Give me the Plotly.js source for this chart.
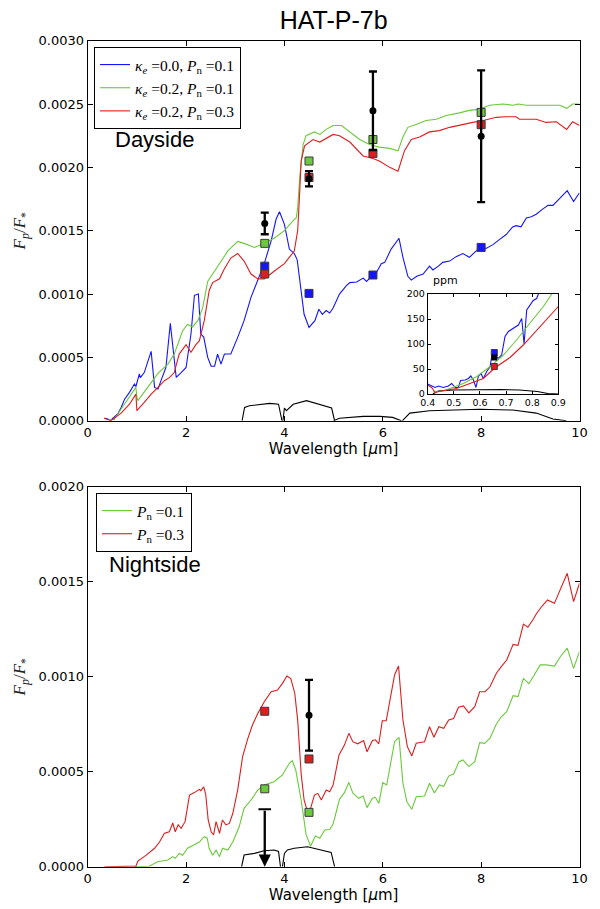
<!DOCTYPE html>
<html>
<head>
<meta charset="utf-8">
<script src="https://cdn.plot.ly/plotly-3.0.1.min.js"></script>
<style>html,body{margin:0;padding:0;background:#fff;}#chart{width:600px;height:909px;}</style>
</head>
<body>
<div id="chart"></div>
<script>
// ---------------- Dayside model spectra ----------------
const dayBlueX = [0.34,0.47,0.61,0.68,0.75,0.85,0.95,0.98,1.05,1.07,1.15,1.29,1.36,1.43,1.49,1.59,1.68,1.75,1.80,1.90,2.00,2.10,2.17,2.25,2.30,2.36,2.44,2.51,2.58,2.64,2.71,2.78,2.91,3.05,3.18,3.32,3.46,3.59,3.73,3.83,3.90,4.00,4.10,4.20,4.26,4.34,4.40,4.50,4.62,4.70,4.77,4.85,4.92,4.99,5.12,5.26,5.33,5.47,5.60,5.67,5.77,5.87,5.97,6.04,6.17,6.33,6.41,6.51,6.58,6.69,6.82,6.95,7.02,7.13,7.22,7.36,7.49,7.63,7.76,7.90,8.00,8.10,8.24,8.37,8.51,8.64,8.71,8.81,8.92,9.02,9.12,9.25,9.36,9.46,9.59,9.75,9.88,10.0];
const dayBlueY = [0.000021,0.000005,0.000053,0.000105,0.00017,0.000224,0.00029,0.00027,0.00037,0.00034,0.00038,0.000547,0.000263,0.00025,0.000316,0.00042,0.000768,0.0005,0.000342,0.00038,0.00042,0.000684,0.00099,0.001,0.000684,0.00066,0.0005,0.00043,0.00043,0.000526,0.000447,0.000526,0.000526,0.000658,0.00079,0.000974,0.001105,0.00124,0.00142,0.00159,0.00165,0.00155,0.001355,0.00132,0.00127,0.001026,0.00084,0.000737,0.00079,0.00088,0.00084,0.00087,0.00085,0.00089,0.001,0.001066,0.00109,0.001095,0.001126,0.0011,0.00114,0.00117,0.00124,0.00125,0.001355,0.00144,0.00129,0.00114,0.00111,0.00114,0.001158,0.00122,0.00119,0.00122,0.00125,0.00126,0.001295,0.00132,0.00129,0.00134,0.00137,0.00136,0.00139,0.00143,0.00147,0.00153,0.00154,0.00153,0.0016,0.00161,0.00163,0.00167,0.0017,0.0017,0.00175,0.001816,0.00173,0.0018];

const dayGreenX = [0.37,0.54,0.68,0.81,0.98,1.0,1.02,1.22,1.42,1.63,1.76,1.93,2.03,2.13,2.24,2.34,2.44,2.51,2.61,2.71,2.85,3.05,3.18,3.39,3.59,3.79,4.00,4.20,4.24,4.27,4.31,4.38,4.44,4.61,4.72,4.85,4.99,5.16,5.33,5.53,5.73,5.93,6.14,6.31,6.41,6.51,6.69,6.88,7.09,7.29,7.56,7.76,7.97,8.17,8.44,8.65,8.75,8.92,9.19,9.46,9.60,9.74,9.86,10.0];
const dayGreenY = [0.00001,0.00001,0.000092,0.00017,0.000263,0.00019,0.000158,0.000263,0.00037,0.000447,0.000526,0.00071,0.00076,0.00074,0.00079,0.000895,0.0011,0.00114,0.0012,0.00125,0.00134,0.001415,0.0014,0.001368,0.0014,0.00144,0.0015,0.00159,0.0016,0.00168,0.00192,0.00218,0.00225,0.00228,0.00226,0.0023,0.00233,0.00233,0.00228,0.00222,0.00218,0.00216,0.00215,0.00213,0.00224,0.002316,0.00234,0.00237,0.00238,0.00241,0.00243,0.00245,0.00246,0.00249,0.0025,0.00249,0.0025,0.00249,0.00249,0.00249,0.00249,0.002466,0.0025,0.0025];

const dayRedX = [0.34,0.47,0.68,0.85,0.98,1.0,1.15,1.29,1.42,1.56,1.66,1.76,1.86,2.0,2.10,2.2,2.27,2.37,2.47,2.54,2.68,2.78,2.91,3.05,3.18,3.32,3.46,3.59,3.79,4.0,4.2,4.27,4.31,4.34,4.41,4.58,4.72,4.85,4.99,5.12,5.33,5.60,5.80,5.93,6.14,6.31,6.44,6.58,6.75,6.95,7.15,7.36,7.63,7.83,8.04,8.31,8.51,8.71,8.78,8.92,9.12,9.32,9.53,9.74,9.86,10.0];
const dayRedY = [0.00002,0.0,0.00006,0.00013,0.00021,0.000079,0.000145,0.00021,0.00026,0.000316,0.00034,0.00038,0.000526,0.0006,0.00054,0.0006,0.00063,0.00079,0.001026,0.00109,0.00112,0.0012,0.001284,0.00132,0.00126,0.001158,0.00112,0.00112,0.00118,0.00124,0.00134,0.0015,0.0018,0.00205,0.00217,0.00222,0.0022,0.00223,0.00226,0.00225,0.0022,0.00209,0.00207,0.00205,0.002,0.00197,0.00213,0.00222,0.00224,0.00228,0.00229,0.002316,0.00234,0.002355,0.00237,0.002395,0.0024,0.0024,0.00238,0.00238,0.00238,0.002355,0.00236,0.0023,0.00236,0.00233];

// Dayside band-averaged model points and observations
const dayBandX = [3.6, 4.5, 5.8, 8.0];
const dayBandBlue = [0.00122, 0.001005, 0.00115, 0.001368];
const dayBandGreen = [0.0014, 0.00205, 0.00222, 0.002434];
const dayBandRed = [0.001158, 0.00192, 0.00211, 0.002337];
const dayObsY = [0.001557, 0.00191, 0.002447, 0.002246];
const dayObsErr = [0.000085, 0.00006, 0.00031, 0.00052];

// IRAC filter response curves (scaled), dayside panel
const f36X = [3.14,3.19,3.29,3.5,3.7,3.88,3.95];
const f36Y = [0,0.000105,0.000118,0.000126,0.000137,0.00013,0];
const f45X = [3.97,4.0,4.04,4.18,4.45,4.72,4.96,5.02];
const f45Y = [0,0.0001,0.00008,0.00013,0.000158,0.00013,0.0001,0];
const f58X = [5.0,5.12,5.6,5.94,6.2,6.38];
const f58Y = [0,0.00002,0.000034,0.000034,0.000026,0];
const f80X = [6.4,6.55,6.95,7.97,8.64,9.12,9.46,9.73];
const f80Y = [0,0.00006,0.000079,0.00009,0.000084,0.00006,0.000013,0];

// ---------------- Inset (optical, ppm) ----------------
const insBlueX = [0.4,0.415,0.428,0.441,0.46,0.479,0.492,0.505,0.517,0.526,0.543,0.556,0.565,0.575,0.585,0.594,0.604,0.613,0.626,0.639,0.645,0.658,0.67,0.683,0.696,0.709,0.728,0.747,0.76,0.769,0.779,0.792,0.804,0.817,0.83];
const insBlueY = [20,16,13,16,13,16,21,13,13,27,28,31,36,28,13,36,41,31,45,55,75,78,71,78,115,125,131,138,151,100,168,178,187,191,208];
const insGreenX = [0.42,0.46,0.485,0.536,0.588,0.639,0.69,0.74,0.79,0.843,0.875,0.9];
const insGreenY = [4,6,11,21,35,55,78,108,141,175,200,215];
const insRedX = [0.4,0.415,0.428,0.46,0.51,0.562,0.613,0.659,0.715,0.766,0.817,0.868,0.9];
const insRedY = [18,13,3,7,11,21,31,53,73,98,128,156,175];
const kepX = [0.42,0.44,0.5,0.6,0.68,0.75,0.82,0.86,0.9];
const kepY = [0,6,8,9,9,8,5,1,0];
const insBandX = [0.655];
const insBandBlue = [83];
const insBandRed = [55];
const insObsY = [73];

// ---------------- Nightside ----------------
const nightRedX = [0.34,0.98,1.02,1.19,1.36,1.46,1.56,1.66,1.73,1.78,1.84,1.9,1.98,2.07,2.17,2.27,2.30,2.36,2.4,2.45,2.51,2.56,2.61,2.68,2.74,2.81,2.88,2.95,3.05,3.15,3.25,3.35,3.46,3.59,3.73,3.86,3.96,4.05,4.13,4.21,4.27,4.34,4.40,4.46,4.53,4.61,4.68,4.75,4.85,4.92,4.99,5.11,5.22,5.31,5.39,5.49,5.61,5.68,5.79,5.85,5.92,5.99,6.07,6.14,6.24,6.32,6.41,6.50,6.59,6.68,6.85,6.95,7.04,7.14,7.24,7.34,7.44,7.54,7.64,7.75,7.87,7.97,8.08,8.18,8.31,8.41,8.52,8.65,8.75,8.86,8.95,9.05,9.13,9.24,9.35,9.49,9.63,9.75,9.88,10.0];
const nightRedY = [0,0.000003,0.00003,0.000061,0.000097,0.00013,0.000176,0.000184,0.00023,0.000184,0.000221,0.000202,0.000237,0.000377,0.00039,0.000407,0.0004,0.00042,0.00038,0.000246,0.000184,0.000167,0.000237,0.000176,0.000246,0.00022,0.000228,0.00028,0.000404,0.00058,0.00067,0.000746,0.000807,0.000868,0.000921,0.00093,0.000965,0.001004,0.00099,0.000913,0.00077,0.00049,0.000351,0.000298,0.000306,0.000377,0.000386,0.000351,0.000404,0.000395,0.00043,0.000588,0.00064,0.000702,0.000658,0.000647,0.000664,0.000605,0.000664,0.000668,0.000647,0.000768,0.000768,0.000877,0.001009,0.001056,0.000772,0.000632,0.000583,0.00065,0.000658,0.000737,0.000681,0.000737,0.000728,0.000772,0.00078,0.000839,0.000846,0.00081,0.000842,0.000921,0.000921,0.000947,0.001018,0.001053,0.001088,0.00117,0.001165,0.001277,0.00126,0.001298,0.001334,0.001372,0.001404,0.001386,0.001474,0.001544,0.001395,0.001492];

const nightGreenX = [0.95,1.25,1.42,1.63,1.73,1.78,1.86,1.93,2.03,2.17,2.27,2.37,2.43,2.47,2.54,2.61,2.68,2.74,2.85,2.95,3.08,3.18,3.32,3.46,3.59,3.79,3.96,4.10,4.16,4.23,4.34,4.44,4.53,4.63,4.72,4.82,4.92,4.99,5.12,5.22,5.31,5.39,5.51,5.60,5.68,5.79,5.85,5.92,6.0,6.08,6.24,6.33,6.41,6.49,6.59,6.68,6.85,6.95,7.05,7.15,7.24,7.34,7.44,7.55,7.63,7.75,7.87,7.97,8.07,8.18,8.31,8.41,8.52,8.65,8.75,8.86,8.97,9.08,9.2,9.32,9.49,9.61,9.75,9.88,10.0];
const nightGreenY = [0,0.000002,0.000026,0.000035,0.000053,0.000044,0.00007,0.00006,0.000097,0.000114,0.00013,0.000158,0.00015,0.000097,0.00006,0.000088,0.000053,0.000097,0.000088,0.00013,0.00021,0.000307,0.000351,0.000404,0.00043,0.000447,0.000483,0.000544,0.000558,0.000509,0.000351,0.00017,0.000108,0.000162,0.00015,0.000193,0.000196,0.000225,0.000355,0.00039,0.000444,0.000388,0.00036,0.000372,0.000311,0.00036,0.000365,0.000333,0.000442,0.00043,0.000658,0.000681,0.000439,0.000342,0.000302,0.000368,0.000372,0.000439,0.000388,0.00043,0.000423,0.000477,0.000488,0.000553,0.000562,0.000527,0.000553,0.000653,0.000649,0.000676,0.000751,0.000789,0.000816,0.0009,0.000895,0.000991,0.000963,0.001009,0.001062,0.001062,0.001056,0.001105,0.00115,0.001044,0.001132];

const nightBandX = [3.6, 4.5];
const nightBandRed = [0.000818, 0.000567];
const nightBandGreen = [0.00041, 0.000286];
const nightObsX = [4.5];
const nightObsY = [0.000797];
const nightObsErr = [0.000186];
const nightLimitX = [3.6];
const nightLimitY = [0.000302];

const n36X = [3.13,3.18,3.39,3.59,3.79,3.88,3.92];
const n36Y = [0,0.0000615,0.00007,0.000084,0.000088,0.00008,0];
const n45X = [3.96,4.0,4.06,4.2,4.47,4.74,4.95,5.02];
const n45Y = [0,0.00007,0.000088,0.000097,0.000105,0.00009,0.000075,0];

// ---------------- styling ----------------
const BLUE = '#1414ff', GREEN = '#6cc83c', RED = '#dc1e1e';
const LW = 1.1;
const sqEdge = {color:'#3a3a3a', width:1};

function line(x, y, color, xa, ya, extra) {
  return Object.assign({type:'scatter', mode:'lines', x:x, y:y, xaxis:xa, yaxis:ya,
    line:{color:color, width:LW}, showlegend:false, hoverinfo:'skip'}, extra||{});
}
function squares(x, y, color, xa, ya, size) {
  return {type:'scatter', mode:'markers', x:x, y:y, xaxis:xa, yaxis:ya, showlegend:false,
    marker:{symbol:'square', size:size||8, color:color, line:sqEdge}, hoverinfo:'skip'};
}

const data = [
  // dayside
  line(dayBlueX, dayBlueY, BLUE, 'x', 'y', {name:'<i>κ<sub>e</sub></i> =0.0, <i>P</i><sub>n</sub> =0.1', showlegend:true, legend:'legend'}),
  line(dayGreenX, dayGreenY, GREEN, 'x', 'y', {name:'<i>κ<sub>e</sub></i> =0.2, <i>P</i><sub>n</sub> =0.1', showlegend:true, legend:'legend'}),
  line(dayRedX, dayRedY, RED, 'x', 'y', {name:'<i>κ<sub>e</sub></i> =0.2, <i>P</i><sub>n</sub> =0.3', showlegend:true, legend:'legend'}),
  line(f36X, f36Y, 'black', 'x', 'y'),
  line(f45X, f45Y, 'black', 'x', 'y'),
  line(f58X, f58Y, 'black', 'x', 'y'),
  line(f80X, f80Y, 'black', 'x', 'y'),
  squares(dayBandX, dayBandBlue, BLUE, 'x', 'y'),
  squares(dayBandX, dayBandGreen, GREEN, 'x', 'y'),
  squares(dayBandX, dayBandRed, RED, 'x', 'y'),
  {type:'scatter', mode:'markers', x:dayBandX, y:dayObsY, xaxis:'x', yaxis:'y', showlegend:false,
   marker:{symbol:'circle', size:7, color:'black'},
   error_y:{type:'data', array:dayObsErr, visible:true, color:'black', thickness:2.3, width:4}, hoverinfo:'skip'},
  // inset
  line(kepX, kepY, 'black', 'x3', 'y3'),
  line(insBlueX, insBlueY, BLUE, 'x3', 'y3'),
  line(insGreenX, insGreenY, GREEN, 'x3', 'y3'),
  line(insRedX, insRedY, RED, 'x3', 'y3'),
  squares(insBandX, insBandBlue, BLUE, 'x3', 'y3', 6),
  squares(insBandX, insBandRed, RED, 'x3', 'y3', 6),
  {type:'scatter', mode:'markers', x:insBandX, y:insObsY, xaxis:'x3', yaxis:'y3', showlegend:false,
   marker:{symbol:'square', size:6, color:'black'}, hoverinfo:'skip'},
  // nightside
  line(nightGreenX, nightGreenY, GREEN, 'x2', 'y2', {name:'<i>P</i><sub>n</sub> =0.1', showlegend:true, legend:'legend2'}),
  line(nightRedX, nightRedY, RED, 'x2', 'y2', {name:'<i>P</i><sub>n</sub> =0.3', showlegend:true, legend:'legend2'}),
  line(n36X, n36Y, 'black', 'x2', 'y2'),
  line(n45X, n45Y, 'black', 'x2', 'y2'),
  squares(nightBandX, nightBandRed, RED, 'x2', 'y2'),
  squares(nightBandX, nightBandGreen, GREEN, 'x2', 'y2'),
  {type:'scatter', mode:'markers', x:nightObsX, y:nightObsY, xaxis:'x2', yaxis:'y2', showlegend:false,
   marker:{symbol:'circle', size:7, color:'black'},
   error_y:{type:'data', array:nightObsErr, visible:true, color:'black', thickness:2.3, width:4}, hoverinfo:'skip'},
  {type:'scatter', mode:'markers', x:nightLimitX, y:nightLimitY, xaxis:'x2', yaxis:'y2', showlegend:false,
   marker:{symbol:'line-ew', size:9, line:{color:'black', width:2}}, hoverinfo:'skip'}
];

const tickFont = {family:'DejaVu Sans', size:13, color:'black'};
const axisBase = {showline:true, linecolor:'black', linewidth:1, mirror:'ticks', ticks:'inside',
  ticklen:5, tickwidth:1, tickcolor:'black', showgrid:false, zeroline:false, tickfont:tickFont};
const H = 909, W = 600;
const xDom = [87.7/W, 579.5/W];

const layout = {
  width:W, height:H, margin:{l:0, r:0, t:0, b:0},
  paper_bgcolor:'white', plot_bgcolor:'white',
  title:{text:'HAT-P-7b', font:{family:'Liberation Sans', size:25, color:'black'},
    x:333.6/W, xanchor:'center', xref:'paper', y:1-20/H, yanchor:'middle', yref:'container'},
  xaxis: Object.assign({}, axisBase, {domain:xDom, anchor:'y', range:[0,10], tickvals:[0,2,4,6,8,10],
    title:{text:'Wavelength [<i>μ</i>m]', font:{family:'DejaVu Sans', size:15, color:'black'}, standoff:4}}),
  yaxis: Object.assign({}, axisBase, {domain:[1-420.7/H, 1-40.7/H], anchor:'x', range:[0,0.003],
    tickvals:[0,0.0005,0.001,0.0015,0.002,0.0025,0.003], tickformat:'.4f',
    title:{text:'<i>F<sub>p</sub></i>/<i>F</i><sub>*</sub>', font:{family:'Liberation Serif', size:17, color:'#222'}, standoff:8}}),
  xaxis2: Object.assign({}, axisBase, {domain:xDom, anchor:'y2', range:[0,10], tickvals:[0,2,4,6,8,10],
    title:{text:'Wavelength [<i>μ</i>m]', font:{family:'DejaVu Sans', size:15, color:'black'}, standoff:4}}),
  yaxis2: Object.assign({}, axisBase, {domain:[1-866.7/H, 1-486.7/H], anchor:'x2', range:[0,0.002],
    tickvals:[0,0.0005,0.001,0.0015,0.002], tickformat:'.4f',
    title:{text:'<i>F<sub>p</sub></i>/<i>F</i><sub>*</sub>', font:{family:'Liberation Serif', size:17, color:'#222'}, standoff:8}}),
  xaxis3: Object.assign({}, axisBase, {domain:[427.7/W, 558.3/W], anchor:'y3', range:[0.4,0.9],
    tickvals:[0.4,0.5,0.6,0.7,0.8,0.9], ticktext:['0.4','0.5','0.6','0.7','0.8','0.9'], ticklen:3,
    tickfont:{family:'DejaVu Sans', size:9.5, color:'black'}}),
  yaxis3: Object.assign({}, axisBase, {domain:[1-394/H, 1-294/H], anchor:'x3', range:[0,200],
    tickvals:[0,50,100,150,200], ticklen:3, tickfont:{family:'DejaVu Sans', size:9.5, color:'black'}}),
  legend:{x:94/W, y:1-47/H, xanchor:'left', yanchor:'top', bgcolor:'white', bordercolor:'black', borderwidth:1,
    font:{family:'Liberation Serif', size:15.5, color:'black'}, tracegroupgap:0},
  legend2:{x:96/W, y:1-493/H, xanchor:'left', yanchor:'top', bgcolor:'white', bordercolor:'black', borderwidth:1,
    font:{family:'Liberation Serif', size:15.5, color:'black'}, tracegroupgap:0},
  annotations:[
    {text:'Dayside', xref:'paper', yref:'paper', x:113/W, y:1-139.5/H, xanchor:'left', yanchor:'middle',
     showarrow:false, font:{family:'Liberation Sans', size:22, color:'black'}},
    {text:'Nightside', xref:'paper', yref:'paper', x:107/W, y:1-564/H, xanchor:'left', yanchor:'middle',
     showarrow:false, font:{family:'Liberation Sans', size:22, color:'black'}},
    {text:'ppm', xref:'paper', yref:'paper', x:431/W, y:1-280/H, xanchor:'left', yanchor:'middle',
     showarrow:false, font:{family:'DejaVu Sans', size:11, color:'black'}},
    {text:'', xref:'x2', yref:'y2', x:nightLimitX[0], y:0, axref:'x2', ayref:'y2', ax:nightLimitX[0], ay:nightLimitY[0],
     showarrow:true, arrowhead:2, arrowsize:1.05, arrowwidth:2.3, arrowcolor:'black', standoff:0, startstandoff:0}
  ]
};

Plotly.newPlot('chart', data, layout, {displayModeBar:false, staticPlot:true});
</script>
</body>
</html>
